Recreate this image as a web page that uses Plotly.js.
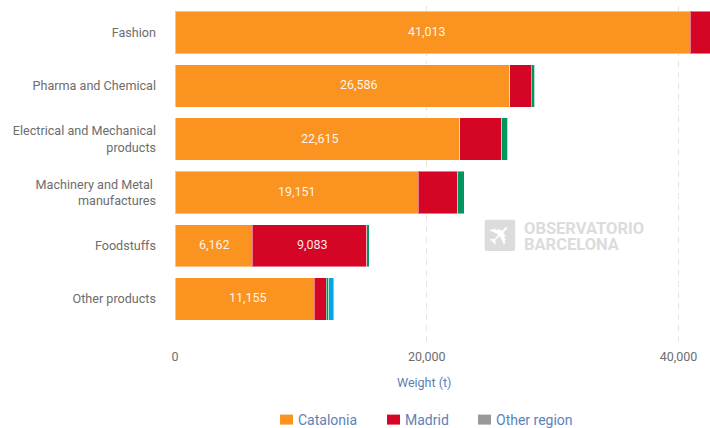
<!DOCTYPE html>
<html><head><meta charset="utf-8">
<script src="https://cdn.plot.ly/plotly-3.0.1.min.js"></script>
<style>html,body{margin:0;padding:0;background:#fff}#c{width:710px;height:428px}</style>
</head><body><div id="c"></div>
<script>
const categories = ['Fashion','Pharma and Chemical','Electrical and Mechanical<br>products','Machinery and Metal\u00a0<br>manufactures','Foodstuffs','Other products'];
const catalonia = [40950,26586,22615,19330,6130,11060];
const madrid = [2500,1730,3350,3150,9083,960];
const green = [0,270,475,480,230,200];
const blue = [0,0,0,0,0,390];
const other = [null,null,null,null,null,null];
const cataloniaLabels = ['41,013','26,586','22,615','19,151','6,162','11,155'];
const madridLabels = ['','','','','9,083',''];
const tickVals = [0,20000,40000];
const tickText = ['0','20,000','40,000'];

// Layout-only settings: where the printed labels sit along each bar (axis units).
const cataloniaLabelAt = [20040,14610,11550,9700,3120,5770];
const madridLabelAt = [0,0,0,0,10930,0];
const legendTextLeft = [298,405,496];

const font = 'Roboto, sans-serif';
const W = 535.5, H = 338.6, L = 174.5, T = 6.4;
const px = v => (v - L) / W, py = v => (T + H - v) / H;

function bar(name, x, color, show){
  return {type:'bar', orientation:'h', name, y:categories, x,
    marker:{color, line:{color:'rgba(255,255,255,0.45)', width:1}},
    textposition:'none', hoverinfo:'x+y', showlegend:show};
}
const traces = [
  bar('Catalonia',catalonia,'#fa9320',true),
  bar('Madrid',madrid,'#d50625',true),
  bar('Other region',other,'#999999',true),
  bar('Region 4',green,'#00965e',false),
  bar('Region 5',blue,'#00a7e1',false)
];
const barLabel = (text,x,i) => ({text,xref:'x',x,yref:'y',y:categories[i],yshift:1,showarrow:false,
  font:{family:font,size:12.5,color:'rgba(255,255,255,0.92)'}});
const valueLabels = cataloniaLabels.map((t,i)=>barLabel(t,cataloniaLabelAt[i],i))
  .concat(madridLabels.map((t,i)=>t?barLabel(t,madridLabelAt[i],i):null).filter(Boolean));

const layout = {
  width:710,height:428,paper_bgcolor:'#fff',plot_bgcolor:'#fff',
  margin:{l:L,r:0,t:T,b:428-T-H},
  barmode:'stack',bargap:0.205,
  font:{family:font,size:12.5,color:'#6d6d6d'},
  xaxis:{range:[0,42500],tickvals:tickVals,ticktext:tickText,showgrid:true,gridcolor:'#e9e3df',griddash:'6px,5px',gridwidth:1,
    zeroline:false,showline:false,ticks:'',ticklabelstandoff:2,tickfont:{size:12.5,color:'#6d6d6d'}},
  yaxis:{type:'category',range:[5.865,-0.5],showgrid:false,zeroline:false,showline:false,ticks:'',ticklabelstandoff:18,
    tickfont:{size:12.6,color:'#6d6d6d'},automargin:false},
  legend:{orientation:'h',x:442/710,xref:'container',xanchor:'center',y:8/428,yref:'container',yanchor:'middle',
    font:{size:14,color:'#5b83b8'},traceorder:'normal'},
  annotations:valueLabels.concat([
    {text:'Weight (t)',xref:'x',x:19790,yref:'paper',y:py(382.5),yanchor:'middle',showarrow:false,font:{size:12.5,color:'#5b7fb5'}},
    {text:'<b>OBSERVATORIO</b>',xref:'paper',x:px(522),xanchor:'left',yref:'paper',y:py(228.5),yanchor:'middle',height:15,showarrow:false,font:{size:16.5,color:'#dcdcdc'}},
    {text:'<b>BARCELONA</b>',xref:'paper',x:px(522),xanchor:'left',yref:'paper',y:py(244.5),yanchor:'middle',height:15,showarrow:false,font:{size:16.5,color:'#dcdcdc'}},
    {text:'\u2708',xref:'paper',x:px(500),yref:'paper',y:py(235.5),yanchor:'middle',showarrow:false,font:{family:'DejaVu Sans',size:29,color:'#ffffff'},textangle:-45}
  ]),
  shapes:[{type:'path',xref:'paper',yref:'paper',layer:'below',
    path:`M${px(486.5)},${py(220)}L${px(513)},${py(220)}Q${px(515)},${py(220)} ${px(515)},${py(222)}L${px(515)},${py(249)}Q${px(515)},${py(251)} ${px(513)},${py(251)}L${px(486.5)},${py(251)}Q${px(484.5)},${py(251)} ${px(484.5)},${py(249)}L${px(484.5)},${py(222)}Q${px(484.5)},${py(220)} ${px(486.5)},${py(220)}Z`,
    fillcolor:'#dcdcdc',line:{width:0}}]
};
Plotly.newPlot('c',traces,layout,{displayModeBar:false,responsive:false}).then(()=>{
  // Tighten the legend: small rectangular swatches close to their text, as in the reference.
  const scroll = document.querySelector('.legend .scrollbox');
  if (scroll) scroll.removeAttribute('clip-path');
  document.querySelectorAll('.legend .traces').forEach((g,i)=>{
    const text = g.querySelector('.legendtext');
    const delta = legendTextLeft[i] - text.getBoundingClientRect().left;
    const m = /translate\(([-\d.]+)[ ,]*([-\d.]*)\)/.exec(g.getAttribute('transform'));
    g.setAttribute('transform',`translate(${parseFloat(m[1])+delta},${parseFloat(m[2]||0)})`);
    const sym = g.querySelector('.legendsymbols');
    if (sym) sym.setAttribute('transform','translate(8.5,0)');
    const p = g.querySelector('.legendpoints path');
    if (p) { p.setAttribute('d','M6.5,5H-6.5V-5H6.5Z'); p.style.strokeWidth='0'; }
  });
});
</script></body></html>
